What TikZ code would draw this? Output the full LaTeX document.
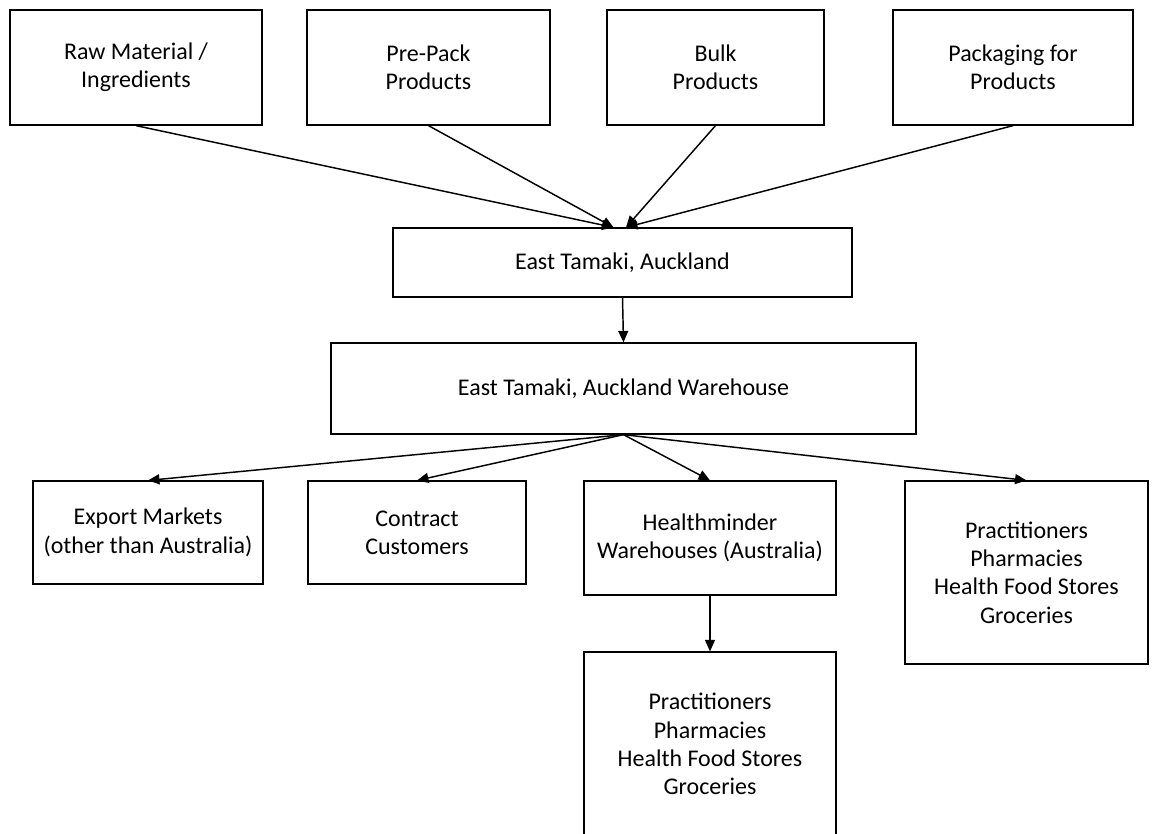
\documentclass[tikz,border=0pt]{standalone}
\usepackage{fontspec}
\setmainfont{Carlito}
\usepackage{tikz}
\usetikzlibrary{arrows.meta, positioning, calc}

\begin{document}
\begin{tikzpicture}[x=0.48pt, y=-0.48pt,
    font=\fontsize{11.5pt}{13.6pt}\selectfont,
    box/.style={draw, line width=0.6pt, align=center, inner sep=0pt},
    flow/.style={->, line width=0.7pt},
    >={Triangle[length=5.5pt, width=4.8pt]}]

            % Khung hình
            \useasboundingbox (0,0) rectangle (1158,834);

            % Nguồn hàng
            \node[box, minimum width=121pt, minimum height=55.2pt] (raw) at (136,67.5) {Raw Material /\\Ingredients};
            \node[box, minimum width=116.6pt, minimum height=55.2pt] (prepack) at (428.5,67.5) {Pre-Pack\\Products};
            \node[box, minimum width=104.2pt, minimum height=55.2pt] (bulk) at (715.5,67.5) {Bulk\\Products};
            \node[box, minimum width=115.2pt, minimum height=55.2pt] (packaging) at (1013,67.5) {Packaging for\\Products};

            % Nhà máy và kho
            \node[box, minimum width=220.3pt, minimum height=33.1pt] (site) at (622.5,262.5) {East Tamaki, Auckland};
            \node[box, minimum width=280.8pt, minimum height=43.7pt] (warehouse) at (623.5,388.5) {East Tamaki, Auckland Warehouse};

            % Khách hàng
            \node[box, minimum width=110.4pt, minimum height=49.4pt] (export) at (148,532.5) {Export Markets\\(other than Australia)};
            \node[box, minimum width=104.6pt, minimum height=49.4pt] (contract) at (417,532.5) {Contract\\Customers};
            \node[box, minimum width=121pt, minimum height=54.7pt] (hminder) at (710,538) {Healthminder\\Warehouses (Australia)};
            \node[box, minimum width=116.6pt, minimum height=87.8pt] (retailnz) at (1026.5,572.5) {Practitioners\\Pharmacies\\Health Food Stores\\Groceries};
            \node[box, minimum width=121pt, minimum height=88.3pt] (retailau) at (710,744) {Practitioners\\Pharmacies\\Health Food Stores\\Groceries};

            % Điểm nhận hàng
            \coordinate (inleft) at ([xshift=-4.3pt]site.north);
            \coordinate (inright) at ([xshift=1.7pt]site.north);

            % Mũi tên vào
            \draw[flow] (raw.south) -- (inleft);
            \draw[flow] (prepack.south) -- (inleft);
            \draw[flow] (bulk.south) -- (inright);
            \draw[flow] (packaging.south) -- (inright);

            % Mũi tên ra
            \draw[flow] (site.south) -- (warehouse.north);
            \draw[flow] (warehouse.south) -- (export.north);
            \draw[flow] (warehouse.south) -- (contract.north);
            \draw[flow] (warehouse.south) -- (hminder.north);
            \draw[flow] (warehouse.south) -- (retailnz.north);
            \draw[flow] (hminder.south) -- (retailau.north);

\end{tikzpicture}
\end{document}
